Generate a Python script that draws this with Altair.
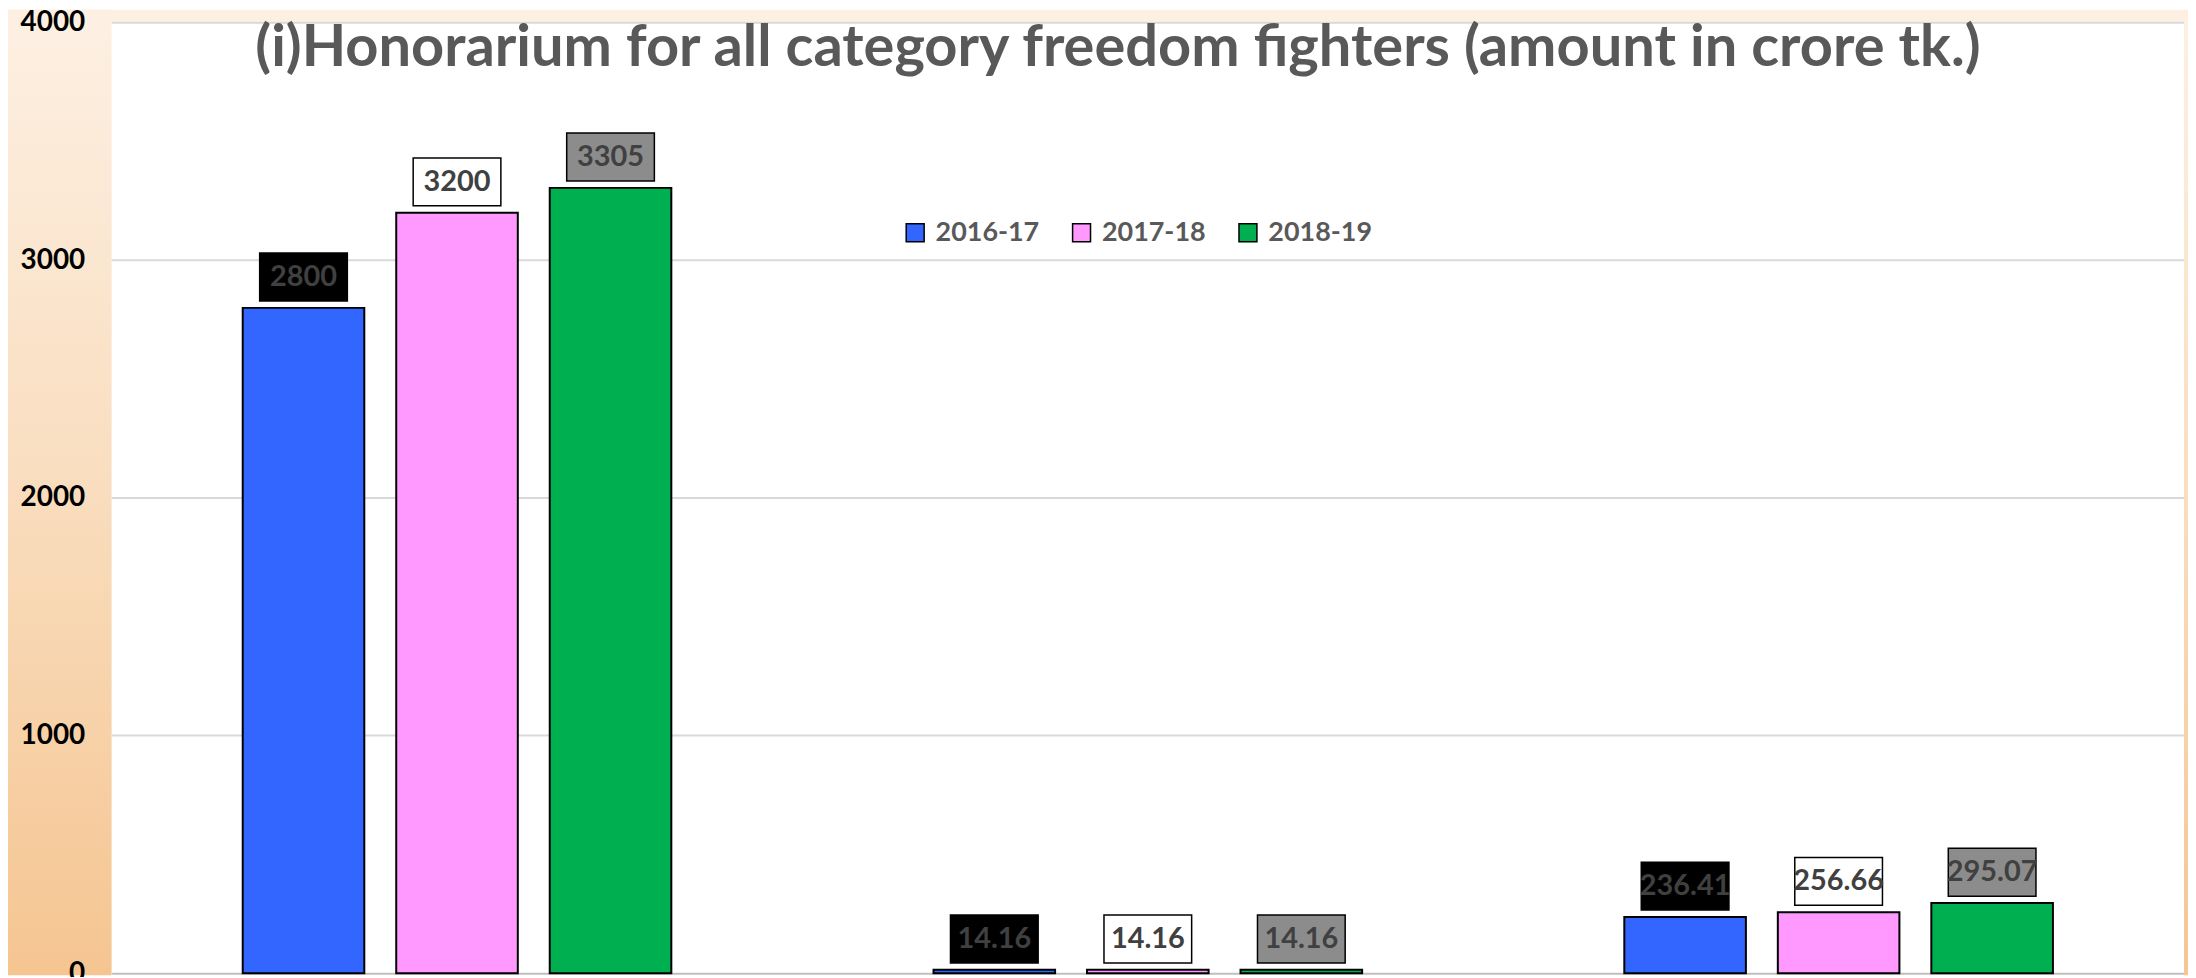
import altair as alt
import pandas as pd

categories = ["Category 1", "Category 2", "Category 3"]
years = ["2016-17", "2017-18", "2018-19"]
values_2016_17 = [2800, 14.16, 236.41]
values_2017_18 = [3200, 14.16, 256.66]
values_2018_19 = [3305, 14.16, 295.07]
y_ticks = [0, 1000, 2000, 3000, 4000]
title_text = "(i)Honorarium for all category freedom fighters (amount in crore tk.)"

bar_colors = ["#3366FF", "#FF99FF", "#00B050"]
box_fills = ["#000000", "#FFFFFF", "#8C8C8C"]

rows = []
for yr, vals in zip(years, [values_2016_17, values_2017_18, values_2018_19]):
    for c, v in zip(categories, vals):
        rows.append({"category": c, "year": yr, "value": v})
df = pd.DataFrame(rows)

W, H = 2080, 954
FONT = "Lato"

x_enc = alt.X("category:N", sort=categories,
              scale=alt.Scale(paddingInner=0, paddingOuter=0),
              axis=alt.Axis(labels=False, ticks=False, title=None,
                            domainColor="#BFBFBF", domainWidth=2))
xo_enc = alt.XOffset("year:N", sort=years,
                     scale=alt.Scale(paddingInner=0.208, paddingOuter=0.854))
y_scale = alt.Scale(domain=[0, 4000], nice=False)
y_axis = alt.Axis(values=y_ticks, format="d", grid=False, domain=False, ticks=False,
                  tickSize=0, labelPadding=27, title=None, labelFlush=False,
                  labelFont=FONT, labelFontSize=28, labelFontWeight="bold",
                  labelColor="#000000", zindex=1)

grad = alt.LinearGradient(
    gradient="linear",
    stops=[alt.GradientStop(offset=0, color="#FDF0E3"),
           alt.GradientStop(offset=0.5, color="#F9DDBE"),
           alt.GradientStop(offset=1, color="#F5C591")],
    x1=0, x2=0, y1=0, y2=1)

bg = pd.DataFrame({"k": [0]})
left_strip = alt.Chart(bg).mark_rect(color=grad).encode(
    x=alt.value(-104), x2=alt.value(0), y=alt.value(-13), y2=alt.value(H + 2))
right_strip = alt.Chart(bg).mark_rect(color=grad).encode(
    x=alt.value(W), x2=alt.value(W + 4), y=alt.value(-13), y2=alt.value(H + 2))
top_strip = alt.Chart(bg).mark_rect(color="#FDF0E3").encode(
    x=alt.value(-104), x2=alt.value(W + 4), y=alt.value(-13), y2=alt.value(-1))

grid = alt.Chart(pd.DataFrame({"v": y_ticks[1:]})).mark_rule(
    color="#D9D9D9", strokeWidth=2).encode(
    y=alt.Y("v:Q", scale=y_scale, axis=y_axis))

bars = alt.Chart(df).mark_bar(stroke="black", strokeWidth=2).encode(
    x=x_enc, xOffset=xo_enc,
    y=alt.Y("value:Q", scale=y_scale, axis=y_axis),
    color=alt.Color("year:N", sort=years,
                    scale=alt.Scale(domain=years, range=bar_colors),
                    legend=alt.Legend(orient="none", legendX=793, legendY=197,
                                      direction="horizontal", title=None,
                                      symbolType="square", symbolSize=324,
                                      symbolStrokeColor="black", symbolStrokeWidth=1.5,
                                      labelFont=FONT, labelFontSize=27,
                                      labelFontWeight="bold", labelColor="#595959",
                                      labelOffset=7, columnPadding=28)))

boxes = alt.Chart(df).mark_bar(width=88, stroke="black", strokeWidth=1.5,
                               yOffset=-55, y2Offset=-7).encode(
    x=x_enc, xOffset=xo_enc,
    y=alt.Y("value:Q", scale=y_scale, axis=y_axis),
    y2=alt.Y2("value:Q"),
    fill=alt.Fill("year:N", sort=years,
                  scale=alt.Scale(domain=years, range=box_fills), legend=None))

texts = alt.Chart(df).mark_text(dy=-31, font=FONT, fontSize=29, fontWeight="bold",
                                color="#404040").encode(
    x=x_enc, xOffset=xo_enc,
    y=alt.Y("value:Q", scale=y_scale, axis=y_axis),
    text=alt.Text("value:Q", format="~f"))

chart = alt.layer(left_strip, right_strip, top_strip, grid, bars, boxes, texts).properties(
    width=W, height=H,
    autosize=alt.AutoSizeParams(type="none"),
    padding={"left": 104, "top": 13, "right": 4, "bottom": 2},
    title=alt.TitleParams(text=title_text, font=FONT, fontSize=58, fontWeight="bold",
                          color="#595959", anchor="middle", frame="group",
                          orient="top", offset=-115, baseline="alphabetic", dx=-30),
).configure_view(strokeWidth=0)

chart.save("out.html", embed_options={"renderer": "svg", "actions": False})
